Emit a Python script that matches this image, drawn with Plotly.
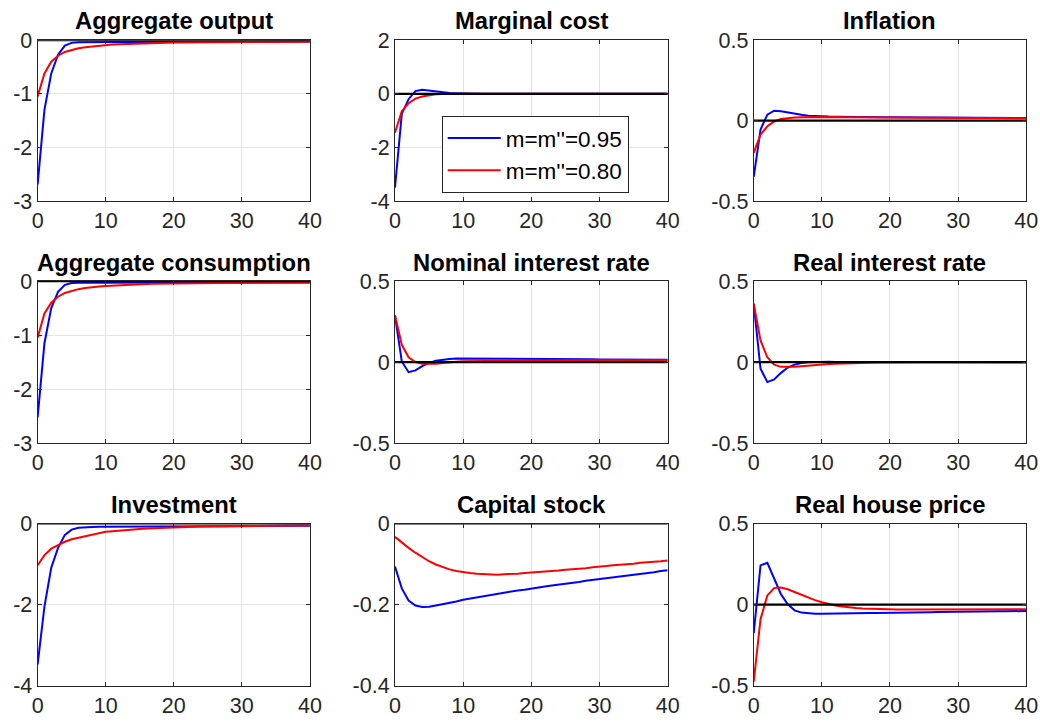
import plotly.graph_objects as go

periods = list(range(41))

titles = ["Aggregate output", "Marginal cost", "Inflation",
          "Aggregate consumption", "Nominal interest rate", "Real interest rate",
          "Investment", "Capital stock", "Real house price"]

legend_names = ["m=m''=0.95", "m=m''=0.80"]

# ---- series (blue: m=m''=0.95, red: m=m''=0.80) ----
output_b = [-2.69, -1.30, -0.62, -0.27, -0.10, -0.05, -0.04, -0.037, -0.036, -0.035,
            -0.035, -0.035, -0.034, -0.034, -0.034, -0.033, -0.033, -0.033, -0.032, -0.032,
            -0.032, -0.031, -0.031, -0.031, -0.030, -0.030, -0.030, -0.029, -0.029, -0.029,
            -0.028, -0.028, -0.028, -0.027, -0.027, -0.027, -0.026, -0.026, -0.026, -0.025, -0.025]
output_r = [-1.05, -0.62, -0.40, -0.29, -0.22, -0.18, -0.15, -0.13, -0.115, -0.10,
            -0.09, -0.082, -0.075, -0.069, -0.064, -0.060, -0.056, -0.053, -0.050, -0.047,
            -0.045, -0.043, -0.041, -0.040, -0.039, -0.038, -0.037, -0.036, -0.036, -0.035,
            -0.035, -0.034, -0.034, -0.033, -0.033, -0.032, -0.032, -0.031, -0.031, -0.030, -0.030]

mc_b = [-3.50, -0.75, -0.20, 0.10, 0.15, 0.12, 0.08, 0.05, 0.03, 0.02,
        0.01, 0.005, 0.0, 0.0, 0.0, 0.0, 0.0, 0.0, 0.0, 0.0,
        0.0, 0.0, 0.0, 0.0, 0.0, 0.0, 0.0, 0.0, 0.0, 0.0,
        0.0, 0.0, 0.0, 0.0, 0.0, 0.0, 0.0, 0.0, 0.0, 0.0, 0.0]
mc_r = [-1.45, -0.65, -0.35, -0.18, -0.10, -0.05, -0.02, -0.01, 0.0, 0.0,
        0.0, 0.0, 0.0, 0.0, 0.0, 0.0, 0.0, 0.0, 0.0, 0.0,
        0.0, 0.0, 0.0, 0.0, 0.0, 0.0, 0.0, 0.0, 0.0, 0.0,
        0.0, 0.0, 0.0, 0.0, 0.0, 0.0, 0.0, 0.0, 0.0, 0.0, 0.0]

infl_b = [-0.35, -0.056, 0.037, 0.062, 0.058, 0.050, 0.042, 0.036, 0.031, 0.028,
          0.026, 0.025, 0.024, 0.023, 0.023, 0.022, 0.022, 0.022, 0.021, 0.021,
          0.021, 0.020, 0.020, 0.020, 0.020, 0.019, 0.019, 0.019, 0.019, 0.018,
          0.018, 0.018, 0.018, 0.017, 0.017, 0.017, 0.017, 0.016, 0.016, 0.016, 0.016]
infl_r = [-0.20, -0.087, -0.035, -0.005, 0.010, 0.016, 0.019, 0.021, 0.022, 0.022,
          0.022, 0.022, 0.022, 0.021, 0.021, 0.021, 0.021, 0.020, 0.020, 0.020,
          0.020, 0.020, 0.019, 0.019, 0.019, 0.019, 0.018, 0.018, 0.018, 0.018,
          0.017, 0.017, 0.017, 0.017, 0.016, 0.016, 0.016, 0.016, 0.015, 0.015, 0.015]

cons_b = [-2.52, -1.15, -0.50, -0.20, -0.07, -0.035, -0.03, -0.03, -0.03, -0.03,
          -0.03, -0.03, -0.03, -0.03, -0.03, -0.03, -0.03, -0.029, -0.029, -0.029,
          -0.029, -0.028, -0.028, -0.028, -0.028, -0.027, -0.027, -0.027, -0.027, -0.026,
          -0.026, -0.026, -0.026, -0.025, -0.025, -0.025, -0.025, -0.024, -0.024, -0.024, -0.024]
cons_r = [-1.05, -0.60, -0.40, -0.29, -0.22, -0.18, -0.15, -0.13, -0.11, -0.10,
          -0.09, -0.082, -0.075, -0.068, -0.063, -0.058, -0.054, -0.051, -0.048, -0.046,
          -0.044, -0.042, -0.041, -0.040, -0.039, -0.038, -0.037, -0.036, -0.036, -0.035,
          -0.035, -0.034, -0.034, -0.033, -0.033, -0.032, -0.032, -0.031, -0.031, -0.030, -0.030]

nom_b = [0.288, 0.004, -0.062, -0.051, -0.025, -0.005, 0.008, 0.015, 0.020, 0.022,
         0.022, 0.022, 0.022, 0.021, 0.021, 0.021, 0.021, 0.020, 0.020, 0.020,
         0.020, 0.020, 0.019, 0.019, 0.019, 0.019, 0.018, 0.018, 0.018, 0.018,
         0.017, 0.017, 0.017, 0.017, 0.016, 0.016, 0.016, 0.016, 0.015, 0.015, 0.015]
nom_r = [0.290, 0.107, 0.030, 0.000, -0.010, -0.012, -0.010, -0.005, 0.000, 0.003,
         0.005, 0.006, 0.007, 0.008, 0.009, 0.009, 0.010, 0.010, 0.010, 0.010,
         0.010, 0.011, 0.011, 0.011, 0.011, 0.011, 0.011, 0.011, 0.012, 0.012,
         0.012, 0.012, 0.012, 0.012, 0.012, 0.012, 0.012, 0.012, 0.012, 0.012, 0.012]

real_b = [0.360, -0.040, -0.123, -0.107, -0.066, -0.033, -0.015, -0.005, 0.000, 0.002,
          0.002, 0.002, 0.001, 0.001, 0.001, 0.000, 0.000, 0.000, 0.000, 0.000,
          0.0, 0.0, 0.0, 0.0, 0.0, 0.0, 0.0, 0.0, 0.0, 0.0,
          0.0, 0.0, 0.0, 0.0, 0.0, 0.0, 0.0, 0.0, 0.0, 0.0, 0.0]
real_r = [0.360, 0.134, 0.030, -0.016, -0.029, -0.030, -0.028, -0.025, -0.021, -0.018,
          -0.015, -0.012, -0.010, -0.008, -0.006, -0.005, -0.004, -0.003, -0.002, -0.002,
          -0.001, -0.001, -0.001, 0.0, 0.0, 0.0, 0.0, 0.0, 0.0, 0.0,
          0.0, 0.0, 0.0, 0.0, 0.0, 0.0, 0.0, 0.0, 0.0, 0.0, 0.0]

inv_b = [-3.47, -2.05, -1.09, -0.60, -0.28, -0.15, -0.107, -0.09, -0.085, -0.082,
         -0.080, -0.079, -0.078, -0.077, -0.076, -0.075, -0.074, -0.073, -0.072, -0.071,
         -0.070, -0.069, -0.069, -0.068, -0.067, -0.067, -0.066, -0.065, -0.065, -0.064,
         -0.063, -0.063, -0.062, -0.061, -0.061, -0.060, -0.059, -0.059, -0.058, -0.057, -0.057]
inv_r = [-1.03, -0.78, -0.62, -0.53, -0.45, -0.39, -0.35, -0.31, -0.27, -0.24,
         -0.205, -0.188, -0.171, -0.156, -0.144, -0.133, -0.123, -0.114, -0.106, -0.098,
         -0.092, -0.087, -0.083, -0.079, -0.076, -0.073, -0.070, -0.068, -0.066, -0.064,
         -0.062, -0.060, -0.058, -0.057, -0.056, -0.055, -0.054, -0.053, -0.052, -0.051, -0.050]

cap_b = [-0.106, -0.160, -0.190, -0.202, -0.206, -0.205, -0.202, -0.199, -0.196, -0.192,
         -0.188, -0.185, -0.182, -0.179, -0.176, -0.173, -0.170, -0.168, -0.165, -0.163,
         -0.160, -0.158, -0.155, -0.153, -0.151, -0.148, -0.146, -0.144, -0.141, -0.139,
         -0.137, -0.135, -0.133, -0.130, -0.128, -0.126, -0.124, -0.122, -0.120, -0.117, -0.115]
cap_r = [-0.033, -0.047, -0.060, -0.072, -0.083, -0.093, -0.101, -0.108, -0.113, -0.117,
         -0.120, -0.122, -0.124, -0.125, -0.126, -0.126, -0.125, -0.125, -0.124, -0.122,
         -0.121, -0.120, -0.118, -0.117, -0.116, -0.114, -0.113, -0.111, -0.110, -0.108,
         -0.107, -0.105, -0.103, -0.102, -0.100, -0.099, -0.097, -0.096, -0.094, -0.093, -0.091]

house_b = [-0.176, 0.242, 0.258, 0.156, 0.064, 0.002, -0.035, -0.049, -0.054, -0.056,
           -0.056, -0.056, -0.055, -0.055, -0.054, -0.054, -0.053, -0.052, -0.051, -0.051,
           -0.050, -0.049, -0.049, -0.048, -0.048, -0.047, -0.047, -0.046, -0.045, -0.045,
           -0.044, -0.044, -0.043, -0.043, -0.042, -0.042, -0.041, -0.041, -0.040, -0.040, -0.039]
house_r = [-0.475, -0.090, 0.057, 0.102, 0.105, 0.095, 0.078, 0.060, 0.043, 0.028,
           0.015, 0.004, -0.005, -0.011, -0.017, -0.021, -0.024, -0.026, -0.028, -0.029,
           -0.030, -0.030, -0.030, -0.030, -0.030, -0.030, -0.030, -0.030, -0.030, -0.030,
           -0.030, -0.030, -0.030, -0.030, -0.030, -0.030, -0.030, -0.029, -0.029, -0.029, -0.029]

zero_line = [0.0, 0.0]
zero_x = [0, 40]

blue_series = [output_b, mc_b, infl_b, cons_b, nom_b, real_b, inv_b, cap_b, house_b]
red_series = [output_r, mc_r, infl_r, cons_r, nom_r, real_r, inv_r, cap_r, house_r]

x_ticks = [0, 10, 20, 30, 40]
x_tick_labels = ["0", "10", "20", "30", "40"]

y_ranges = [[-3, 0], [-4, 2], [-0.5, 0.5],
            [-3, 0], [-0.5, 0.5], [-0.5, 0.5],
            [-4, 0], [-0.4, 0], [-0.5, 0.5]]
y_ticks = [[-3, -2, -1, 0], [-4, -2, 0, 2], [-0.5, 0, 0.5],
           [-3, -2, -1, 0], [-0.5, 0, 0.5], [-0.5, 0, 0.5],
           [-4, -2, 0], [-0.4, -0.2, 0], [-0.5, 0, 0.5]]
y_tick_labels = [["-3", "-2", "-1", "0"], ["-4", "-2", "0", "2"], ["-0.5", "0", "0.5"],
                 ["-3", "-2", "-1", "0"], ["-0.5", "0", "0.5"], ["-0.5", "0", "0.5"],
                 ["-4", "-2", "0"], ["-0.4", "-0.2", "0"], ["-0.5", "0", "0.5"]]

# ---- layout geometry ----
# target positions (in picture pixels) converted to figure pixels with the
# offset/scale observed between figure and photographed page
W, H = 1055, 737
OX, SX = 5.7, 0.982
OY, SY = 11.5, 0.968
col_px = [(37.3, 309.3), (394.3, 666.7), (752.7, 1025.0)]
row_px = [(40.7, 201.7), (281.7, 444.0), (524.3, 686.7)]
title_px = [21, 263, 505]


def fx(v):
    return (v - OX) / SX


def fy(v):
    return (v - OY) / SY


FONT = "Liberation Sans, Arial, Helvetica, sans-serif"
AX_COLOR = "#262626"
GRID = "#e3e3e3"
TICK_SIZE = 21.5

fig = go.Figure()
layout = dict(
    width=W, height=H,
    margin=dict(l=0, r=0, t=0, b=0),
    paper_bgcolor="white", plot_bgcolor="white",
    font=dict(family=FONT, size=TICK_SIZE, color=AX_COLOR),
    showlegend=True,
    annotations=[],
)

for i in range(9):
    r, c = divmod(i, 3)
    n = "" if i == 0 else str(i + 1)
    xa, ya = "x" + n, "y" + n
    x0, x1 = fx(col_px[c][0]), fx(col_px[c][1])
    y0, y1 = fy(row_px[r][0]), fy(row_px[r][1])
    layout["xaxis" + n] = dict(
        domain=[x0 / W, x1 / W], anchor=ya, range=[0, 40],
        tickvals=x_ticks, ticktext=x_tick_labels,
        showgrid=True, gridcolor=GRID, gridwidth=1, zeroline=False,
        showline=True, linecolor=AX_COLOR, linewidth=1, mirror="ticks",
        ticks="inside", ticklen=4, tickcolor=AX_COLOR,
        tickfont=dict(size=TICK_SIZE, color=AX_COLOR, family=FONT),
    )
    layout["yaxis" + n] = dict(
        domain=[1 - y1 / H, 1 - y0 / H], anchor=xa, range=y_ranges[i],
        tickvals=y_ticks[i], ticktext=y_tick_labels[i],
        showgrid=True, gridcolor=GRID, gridwidth=1, zeroline=False,
        showline=True, linecolor=AX_COLOR, linewidth=1, mirror="ticks",
        ticks="inside", ticklen=4, tickcolor=AX_COLOR,
        tickfont=dict(size=TICK_SIZE, color=AX_COLOR, family=FONT),
    )
    layout["annotations"].append(dict(
        text="<b>" + titles[i] + "</b>", xref="paper", yref="paper",
        x=(x0 + x1) / 2 / W, y=1 - fy(title_px[r]) / H,
        xanchor="center", yanchor="middle", showarrow=False,
        font=dict(size=23.8, color="black", family=FONT),
    ))
    fig.add_trace(go.Scatter(
        x=periods, y=blue_series[i], mode="lines", xaxis=xa, yaxis=ya,
        line=dict(color="#0000ff", width=2), name=legend_names[0],
        showlegend=(i == 1), hoverinfo="skip"))
    fig.add_trace(go.Scatter(
        x=periods, y=red_series[i], mode="lines", xaxis=xa, yaxis=ya,
        line=dict(color="#ff0000", width=2), name=legend_names[1],
        showlegend=(i == 1), hoverinfo="skip"))
    fig.add_trace(go.Scatter(
        x=zero_x, y=zero_line, mode="lines", xaxis=xa, yaxis=ya,
        line=dict(color="black", width=2.2), showlegend=False, hoverinfo="skip"))

layout["legend"] = dict(
    x=fx(441) / W, y=1 - fy(155) / H, xanchor="left", yanchor="middle",
    bgcolor="white", bordercolor="#262626", borderwidth=1,
    font=dict(size=22.5, color="black", family=FONT),
    tracegroupgap=0, itemwidth=53,
)

fig.update_layout(**layout)
fig.write_html("out.html")
